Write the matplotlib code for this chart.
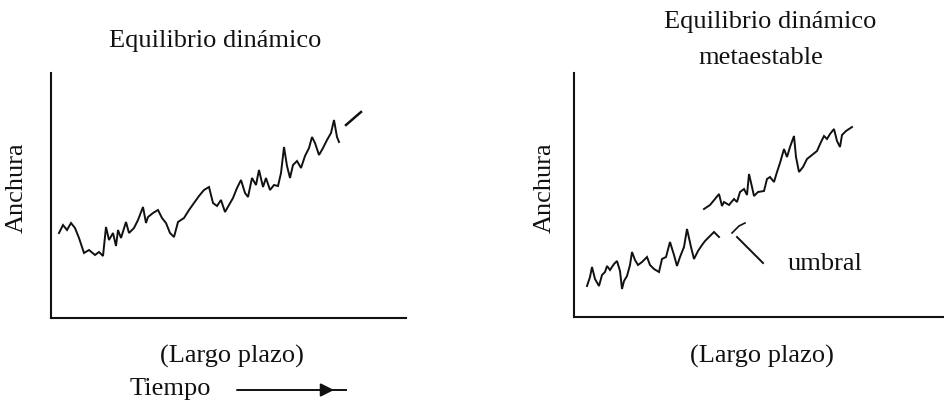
import matplotlib
matplotlib.use("Agg")
import matplotlib.pyplot as plt

plt.rcParams['font.family'] = ['Liberation Serif', 'DejaVu Serif']

# ---------------- data (arbitrary units) ----------------
# Left panel: "Equilibrio dinámico"
izq_x = [8, 12, 16, 20, 24, 28, 33, 38, 44, 48, 52, 55, 58, 62, 65, 67, 70, 75, 78, 83,
         87, 92, 95, 97, 102, 107, 111, 115, 119, 123, 127, 133, 138, 143, 148, 153, 158,
         162, 166, 170, 174, 178, 182, 186, 190, 194, 197, 201, 205, 208, 212, 215, 219,
         223, 227, 230, 233, 236, 239, 242, 246, 250, 254, 258, 261, 264, 268, 272, 276,
         280, 283, 286, 288]
izq_y = [85, 93, 88, 95, 90, 80, 65, 68, 63, 66, 62, 91, 78, 85, 72, 88, 80, 96, 85, 90,
         98, 111, 95, 101, 105, 108, 100, 95, 85, 81, 96, 100, 108, 115, 122, 128, 131,
         115, 112, 118, 106, 113, 120, 130, 138, 125, 121, 140, 133, 148, 131, 140, 128,
         133, 132, 145, 171, 152, 140, 153, 157, 150, 162, 170, 181, 175, 163, 170, 178,
         185, 198, 181, 176]
tend_x = [295, 310]
tend_y = [193, 206]

# Right panel: "Equilibrio dinámico metaestable"
antes_x = [13, 16, 18, 21, 25, 28, 31, 33, 36, 40, 43, 46, 48, 50, 53, 56, 58, 61, 64, 68,
           71, 73, 76, 80, 85, 88, 92, 96, 100, 103, 106, 110, 113, 117, 120, 124, 128,
           131, 135, 140, 145]
antes_y = [31, 40, 50, 38, 31, 42, 45, 51, 47, 53, 56, 46, 28, 36, 41, 52, 65, 57, 52, 55,
           58, 60, 52, 48, 45, 58, 60, 75, 62, 51, 60, 70, 88, 70, 58, 66, 72, 76, 80, 85, 80]
despues_x = [130, 136, 141, 145, 148, 150, 155, 160, 163, 166, 170, 173, 175, 178, 180,
             184, 190, 193, 196, 200, 203, 206, 210, 213, 216, 220, 222, 225, 229, 233,
             238, 243, 247, 250, 253, 256, 260, 263, 266, 268, 272, 278]
despues_y = [108, 112, 118, 123, 111, 115, 112, 118, 115, 125, 128, 122, 143, 130, 121,
             125, 126, 138, 140, 135, 145, 154, 168, 160, 170, 181, 160, 145, 150, 158,
             162, 166, 175, 181, 178, 183, 188, 176, 170, 182, 186, 190]

titulo_izq = "Equilibrio dinámico"
titulo_der = ["Equilibrio dinámico", "metaestable"]
etiqueta_y = "Anchura"
etiqueta_x = "(Largo plazo)"
etiqueta_tiempo = "Tiempo"
etiqueta_umbral = "umbral"

# ---------------- figure ----------------
W, H = 945, 404
fig = plt.figure(figsize=(W / 100, H / 100), dpi=100)


def px_axes(x0, y_top, x1, y_bot):
    return fig.add_axes([x0 / W, 1 - y_bot / H, (x1 - x0) / W, (y_bot - y_top) / H])


ink = '#111111'
lw_spine = 1.5
lw_line = 1.4

axL = px_axes(51, 73, 406, 318)
axL.set_xlim(0, 355)
axL.set_ylim(0, 245)
axL.plot(izq_x, izq_y, color=ink, lw=lw_line, solid_joinstyle='miter')
axL.plot(tend_x, tend_y, color=ink, lw=lw_line + 0.4)

axR = px_axes(574, 73, 945, 317)
axR.set_xlim(0, 371)
axR.set_ylim(0, 244)
axR.plot(antes_x, antes_y, color=ink, lw=lw_line, solid_joinstyle='miter')
axR.plot(despues_x, despues_y, color=ink, lw=lw_line, solid_joinstyle='miter')

for ax in (axL, axR):
    for s in ('top', 'right'):
        ax.spines[s].set_visible(False)
    for s in ('left', 'bottom'):
        ax.spines[s].set_linewidth(lw_spine)
        ax.spines[s].set_color(ink)
    ax.set_xticks([])
    ax.set_yticks([])
    ax.patch.set_alpha(0)

# overlay in pixel coordinates for labels
ov = fig.add_axes([0, 0, 1, 1])
ov.set_xlim(0, W)
ov.set_ylim(H, 0)
ov.axis('off')
ov.patch.set_alpha(0)

fs = 19
ov.text(215, 47, titulo_izq, ha='center', va='baseline', fontsize=fs, color=ink)
ov.text(770, 28, titulo_der[0], ha='center', va='baseline', fontsize=fs, color=ink)
ov.text(761, 64, titulo_der[1], ha='center', va='baseline', fontsize=fs, color=ink)
ov.text(17, 188, etiqueta_y, ha='center', va='center', rotation=90, fontsize=fs, color=ink)
ov.text(545, 188, etiqueta_y, ha='center', va='center', rotation=90, fontsize=fs, color=ink)
ov.text(232, 356, etiqueta_x, ha='center', va='center', fontsize=fs, color=ink)
ov.text(762, 356, etiqueta_x, ha='center', va='center', fontsize=fs, color=ink)
ov.text(170, 389, etiqueta_tiempo, ha='center', va='center', fontsize=fs, color=ink)

# time arrow
ov.annotate('', xy=(334, 390), xytext=(237, 390),
            arrowprops=dict(arrowstyle='-|>', lw=1.4, color=ink, mutation_scale=20,
                            shrinkA=0, shrinkB=0))
ov.plot([330, 346], [390, 390], color=ink, lw=1.4)

# umbral pointer
ov.text(825, 264, etiqueta_umbral, ha='center', va='center', fontsize=fs, color=ink)
ov.plot([763, 737], [263, 237], color=ink, lw=1.4)
ov.plot([732, 739, 745], [233, 226, 223], color=ink, lw=1.2)

fig.savefig('out.png', dpi=100)
